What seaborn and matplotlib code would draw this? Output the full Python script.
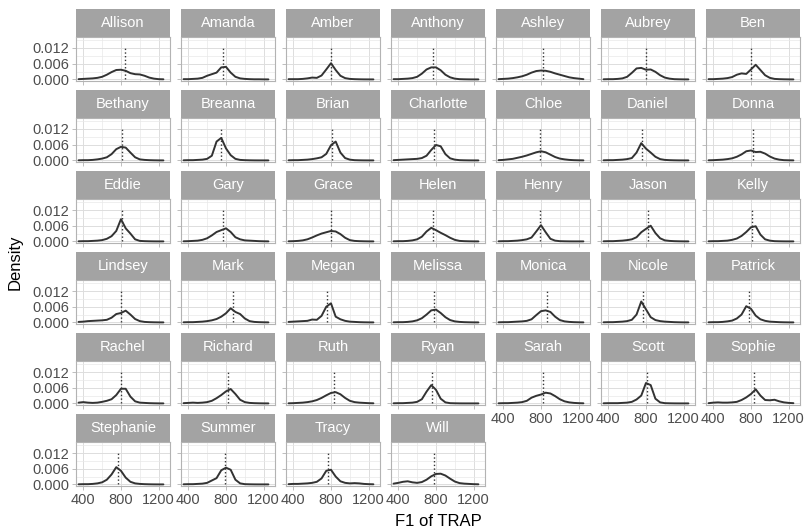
import numpy as np
import pandas as pd
import seaborn as sns
import matplotlib
matplotlib.use("Agg")
from matplotlib import pyplot as plt
from matplotlib.patches import Rectangle
from matplotlib.ticker import FormatStrFormatter

f1_grid = [350, 400, 450, 500, 550, 600, 650, 700, 750, 800,
           850, 900, 950, 1000, 1050, 1100, 1150, 1200, 1250]

speakers = ["Allison", "Amanda", "Amber", "Anthony", "Ashley", "Aubrey", "Ben",
            "Bethany", "Breanna", "Brian", "Charlotte", "Chloe", "Daniel", "Donna",
            "Eddie", "Gary", "Grace", "Helen", "Henry", "Jason", "Kelly",
            "Lindsey", "Mark", "Megan", "Melissa", "Monica", "Nicole", "Patrick",
            "Rachel", "Richard", "Ruth", "Ryan", "Sarah", "Scott", "Sophie",
            "Stephanie", "Summer", "Tracy", "Will"]

# mean F1 per speaker (dotted line)
means = [842, 768, 800, 768, 820, 800, 800,
         810, 747, 815, 778, 789, 757, 820,
         810, 768, 800, 768, 789, 821, 810,
         800, 873, 758, 779, 863, 768, 779,
         800, 820, 831, 757, 820, 810, 835,
         768, 789, 768, 779]

# density values (x 0.001) at f1_grid
allison = [0.1, 0.2, 0.3, 0.4, 0.6, 1.0, 1.8, 2.8, 3.6, 3.7, 3.3, 2.4, 2.0, 1.9, 1.4, 0.7, 0.3, 0.1, 0.05]
amanda = [0.1, 0.1, 0.2, 0.3, 0.6, 1.4, 2.0, 2.6, 4.6, 4.8, 2.6, 1.0, 0.4, 0.2, 0.1, 0.05, 0.05, 0.02, 0.01]
amber = [0.1, 0.1, 0.1, 0.2, 0.4, 0.7, 0.6, 1.5, 3.8, 6.2, 3.6, 1.4, 0.5, 0.2, 0.1, 0.05, 0.02, 0.01, 0.01]
anthony = [0.1, 0.1, 0.2, 0.3, 0.5, 1.0, 2.2, 3.8, 4.6, 4.6, 3.5, 1.8, 0.8, 0.3, 0.1, 0.05, 0.02, 0.01, 0.01]
ashley = [0.1, 0.2, 0.3, 0.5, 0.8, 1.2, 1.8, 2.6, 3.2, 3.4, 3.3, 2.9, 2.3, 1.8, 1.3, 0.8, 0.5, 0.3, 0.1]
aubrey = [0.05, 0.1, 0.1, 0.2, 0.4, 1.0, 2.5, 4.2, 4.4, 3.7, 3.8, 2.9, 1.6, 0.7, 0.3, 0.1, 0.05, 0.02, 0.01]
ben = [0.1, 0.1, 0.2, 0.3, 0.5, 0.9, 1.8, 2.3, 2.1, 3.8, 5.6, 3.6, 1.6, 0.6, 0.2, 0.1, 0.05, 0.02, 0.01]
bethany = [0.05, 0.1, 0.1, 0.2, 0.4, 0.7, 1.2, 2.4, 4.3, 5.2, 4.9, 3.0, 1.2, 0.4, 0.2, 0.1, 0.05, 0.02, 0.01]
breanna = [0.05, 0.1, 0.1, 0.2, 0.3, 0.6, 1.8, 7.2, 8.6, 4.6, 2.0, 0.6, 0.2, 0.1, 0.05, 0.02, 0.01, 0.01, 0.01]
brian = [0.05, 0.1, 0.1, 0.2, 0.3, 0.5, 0.8, 1.2, 2.5, 5.8, 7.2, 3.0, 0.9, 0.3, 0.1, 0.05, 0.02, 0.01, 0.01]
charlotte = [0.1, 0.2, 0.3, 0.4, 0.5, 0.6, 0.9, 1.8, 4.0, 5.9, 5.4, 2.4, 0.8, 0.3, 0.1, 0.05, 0.02, 0.01, 0.01]
chloe = [0.1, 0.2, 0.4, 0.6, 1.0, 1.4, 1.9, 2.5, 3.1, 3.5, 3.1, 2.2, 1.3, 0.7, 0.4, 0.2, 0.1, 0.05, 0.02]
daniel = [0.05, 0.1, 0.1, 0.2, 0.3, 0.5, 0.9, 3.0, 6.6, 4.5, 3.0, 1.4, 0.5, 0.2, 0.1, 0.05, 0.02, 0.01, 0.01]
donna = [0.05, 0.1, 0.2, 0.3, 0.5, 0.8, 1.4, 2.3, 3.5, 3.8, 3.2, 3.3, 2.6, 1.5, 0.7, 0.3, 0.1, 0.05, 0.02]
eddie = [0.05, 0.1, 0.1, 0.2, 0.3, 0.5, 1.0, 2.0, 4.0, 8.5, 5.0, 3.0, 0.8, 0.2, 0.1, 0.05, 0.02, 0.01, 0.01]
gary = [0.05, 0.1, 0.2, 0.3, 0.6, 1.2, 2.3, 3.6, 4.3, 5.0, 3.6, 1.6, 0.8, 0.4, 0.3, 0.2, 0.1, 0.05, 0.02]
grace = [0.05, 0.1, 0.2, 0.4, 0.8, 1.5, 2.3, 3.0, 3.5, 4.0, 3.8, 2.8, 1.4, 0.5, 0.2, 0.1, 0.05, 0.02, 0.01]
helen = [0.05, 0.1, 0.1, 0.2, 0.4, 0.8, 1.8, 3.8, 5.2, 4.3, 3.3, 2.4, 1.4, 0.6, 0.2, 0.1, 0.05, 0.02, 0.01]
henry = [0.05, 0.1, 0.1, 0.2, 0.3, 0.5, 0.8, 1.5, 3.8, 6.2, 3.5, 1.0, 0.3, 0.1, 0.05, 0.02, 0.01, 0.01, 0.01]
jason = [0.05, 0.1, 0.1, 0.2, 0.3, 0.5, 0.8, 1.6, 3.5, 4.8, 6.0, 3.2, 1.2, 0.4, 0.2, 0.1, 0.05, 0.02, 0.01]
kelly = [0.05, 0.1, 0.1, 0.2, 0.3, 0.6, 1.1, 2.1, 3.6, 5.4, 5.8, 2.6, 0.8, 0.3, 0.1, 0.05, 0.02, 0.01, 0.01]
lindsey = [0.2, 0.3, 0.5, 0.6, 0.7, 0.8, 1.0, 1.8, 3.2, 3.6, 4.5, 3.0, 1.3, 0.5, 0.2, 0.1, 0.05, 0.02, 0.01]
mark = [0.05, 0.1, 0.1, 0.2, 0.3, 0.5, 0.8, 1.3, 2.2, 3.5, 5.4, 4.0, 3.2, 1.5, 0.5, 0.2, 0.1, 0.05, 0.02]
megan = [0.2, 0.3, 0.4, 0.5, 0.6, 1.1, 1.0, 2.5, 6.0, 7.3, 2.2, 1.2, 0.6, 0.3, 0.2, 0.1, 0.05, 0.02, 0.01]
melissa = [0.05, 0.1, 0.1, 0.2, 0.4, 0.8, 1.6, 3.0, 4.6, 4.9, 3.6, 2.0, 0.9, 0.4, 0.2, 0.1, 0.05, 0.02, 0.01]
monica = [0.05, 0.1, 0.1, 0.2, 0.3, 0.4, 0.6, 1.2, 2.8, 4.3, 4.6, 4.0, 2.2, 0.9, 0.4, 0.2, 0.1, 0.05, 0.02]
nicole = [0.05, 0.1, 0.1, 0.2, 0.3, 0.5, 1.0, 3.0, 8.0, 5.0, 2.0, 0.9, 0.5, 0.3, 0.2, 0.1, 0.05, 0.02, 0.01]
patrick = [0.05, 0.1, 0.1, 0.2, 0.4, 0.7, 1.5, 3.0, 6.2, 5.2, 2.6, 1.2, 0.6, 0.3, 0.2, 0.1, 0.05, 0.02, 0.01]
rachel = [0.3, 0.5, 0.3, 0.2, 0.3, 0.6, 1.0, 1.6, 3.2, 5.6, 5.6, 2.6, 0.8, 0.3, 0.2, 0.1, 0.05, 0.02, 0.01]
richard = [0.1, 0.2, 0.3, 0.2, 0.3, 0.5, 1.0, 2.0, 3.2, 4.6, 5.5, 3.6, 1.4, 0.5, 0.2, 0.1, 0.05, 0.02, 0.01]
ruth = [0.05, 0.1, 0.2, 0.3, 0.5, 0.8, 1.3, 2.1, 3.1, 4.0, 4.3, 3.5, 2.1, 1.0, 0.5, 0.3, 0.2, 0.1, 0.05]
ryan = [0.05, 0.1, 0.1, 0.2, 0.3, 0.6, 1.6, 4.5, 7.0, 5.2, 1.8, 0.4, 0.1, 0.05, 0.02, 0.01, 0.01, 0.01, 0.01]
sarah = [0.05, 0.1, 0.1, 0.2, 0.3, 0.5, 1.0, 2.2, 2.9, 3.4, 4.1, 3.8, 2.8, 1.6, 0.8, 0.4, 0.2, 0.1, 0.05]
scott = [0.05, 0.1, 0.1, 0.1, 0.2, 0.3, 0.6, 1.5, 3.0, 7.8, 7.0, 1.8, 0.4, 0.1, 0.05, 0.02, 0.01, 0.01, 0.01]
sophie = [0.1, 0.3, 0.4, 0.3, 0.3, 0.4, 0.6, 1.3, 2.3, 3.6, 5.4, 3.0, 1.3, 1.2, 1.4, 0.8, 0.4, 0.2, 0.1]
stephanie = [0.05, 0.1, 0.1, 0.2, 0.4, 0.8, 1.8, 3.8, 6.6, 5.2, 2.6, 1.0, 0.4, 0.2, 0.1, 0.05, 0.02, 0.01, 0.01]
summer = [0.05, 0.1, 0.1, 0.2, 0.3, 0.6, 1.5, 2.4, 5.4, 6.4, 5.6, 1.8, 0.4, 0.1, 0.05, 0.02, 0.01, 0.01, 0.01]
tracy = [0.1, 0.2, 0.2, 0.3, 0.4, 0.6, 1.0, 2.3, 5.2, 5.6, 3.0, 1.2, 0.6, 0.4, 0.5, 0.4, 0.2, 0.1, 0.05]
will = [0.3, 0.6, 1.0, 1.2, 0.8, 0.6, 0.9, 1.8, 3.1, 4.0, 4.1, 3.4, 2.2, 1.1, 0.5, 0.3, 0.2, 0.1, 0.05]

curves = [allison, amanda, amber, anthony, ashley, aubrey, ben,
          bethany, breanna, brian, charlotte, chloe, daniel, donna,
          eddie, gary, grace, helen, henry, jason, kelly,
          lindsey, mark, megan, melissa, monica, nicole, patrick,
          rachel, richard, ruth, ryan, sarah, scott, sophie,
          stephanie, summer, tracy, will]

## monta o dataframe longo
linhas = []
for nome, dens in zip(speakers, curves):
    for f1, d in zip(f1_grid, dens):
        linhas.append((nome, f1, d * 0.001))
df = pd.DataFrame(linhas, columns=["speaker", "f1", "density"])

sns.set_theme(style="white")
plt.rcParams["font.family"] = ["Liberation Sans", "DejaVu Sans"]

g = sns.FacetGrid(df, col="speaker", col_wrap=7, col_order=speakers,
                  sharex=True, sharey=True, despine=False, height=1, aspect=1.5)
g.map_dataframe(sns.lineplot, x="f1", y="density", color="#333333", linewidth=1.4)
g.set_titles("")
g.set_axis_labels("", "")

fig = g.figure
fig.set_size_inches(8.1, 5.3)
fig.subplots_adjust(left=76 / 810, right=800 / 810, top=1 - 37 / 530,
                    bottom=1 - 486 / 530, wspace=0.117, hspace=0.841)

ncol = 7
n = len(speakers)
strip_h = 28 / 44
for i, (ax, nome, media) in enumerate(zip(g.axes.flat, speakers, means)):
    ax.vlines(media, 0, 0.0127, colors="#333333", linestyles=":", linewidth=1.0)
    ax.set_xlim(323, 1320)
    ax.set_ylim(-0.0006, 0.0162)
    ax.set_xticks([400, 800, 1200])
    ax.set_xticks([600, 1000], minor=True)
    ax.set_yticks([0.0, 0.006, 0.012])
    ax.set_yticks([0.003, 0.009, 0.015], minor=True)
    ax.yaxis.set_major_formatter(FormatStrFormatter("%.3f"))
    ax.grid(which="major", color="#dddddd", linewidth=0.7)
    ax.grid(which="minor", color="#e9e9e9", linewidth=0.5)
    ax.set_axisbelow(True)
    for s in ax.spines.values():
        s.set_color("#b3b3b3")
        s.set_linewidth(0.8)
    # quem tem eixo embaixo / na esquerda
    bottom = i + ncol >= n
    left = i % ncol == 0
    ax.tick_params(which="major", axis="both", length=3, width=0.6, color="#b3b3b3",
                   labelsize=10.5, labelcolor="#4d4d4d", pad=2,
                   labelbottom=bottom, labelleft=left, bottom=True, left=True)
    ax.tick_params(which="minor", length=0)
    # faixa cinza do titulo (estilo ggplot)
    ax.add_patch(Rectangle((0, 1), 1, strip_h, transform=ax.transAxes,
                           facecolor="#a3a3a3", edgecolor="none", clip_on=False))
    ax.text(0.5, 1 + strip_h / 2, nome, transform=ax.transAxes, ha="center",
            va="center", color="white", fontsize=10.5)

fig.text(438 / 810, 1 - 522 / 530, "F1 of TRAP", ha="center", va="center",
         fontsize=12, color="black")
fig.text(15 / 810, 1 - 262 / 530, "Density", ha="center", va="center",
         rotation=90, fontsize=12, color="black")

fig.savefig("out.png", dpi=100)
